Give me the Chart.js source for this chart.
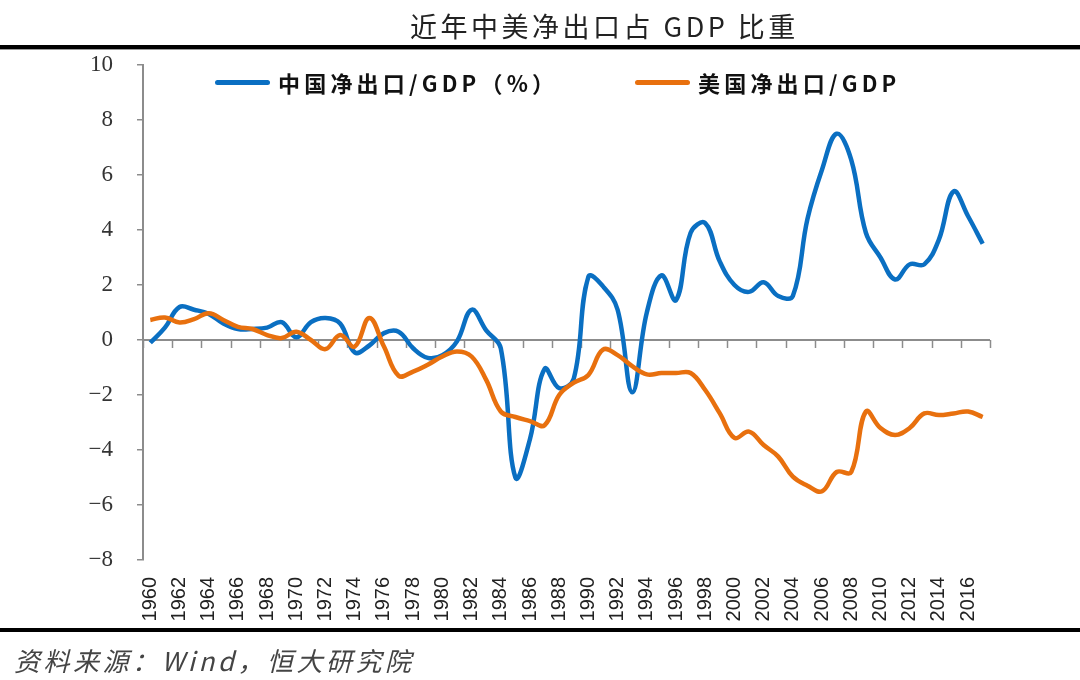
<!DOCTYPE html>
<html>
<head>
<meta charset="utf-8">
<script src="https://cdn.jsdelivr.net/npm/chart.js@4/dist/chart.umd.min.js"></script>
<style>
    html, body { margin: 0; padding: 0; background: #fff; }
    #wrap { position: relative; width: 1080px; height: 680px; overflow: hidden; }
    #wrap canvas { position: absolute; left: 0; top: 0; }
    .title {
        position: absolute; left: 410px; top: 6px;
        font-family: "Noto Sans CJK SC", sans-serif; font-size: 27px; color: #222;
        letter-spacing: 3.5px; white-space: nowrap;
    }
    .rule { position: absolute; left: 0; width: 1080px; background: #000; }
    .legend-item { position: absolute; top: 66px; display: flex; align-items: center; white-space: nowrap; }
    .legend-item i { display: inline-block; width: 55px; height: 5px; border-radius: 3px; margin-right: 8px; }
    .legend-item span {
        font-family: "Noto Sans CJK SC", sans-serif; font-weight: 700; font-size: 22px;
        color: #111; letter-spacing: 4.2px;
    }
    .source {
        position: absolute; left: 14px; top: 641px;
        font-family: "Noto Sans CJK SC", sans-serif; font-style: italic; font-size: 26px;
        color: #444; letter-spacing: 3.5px; white-space: nowrap;
    }
</style>
</head>
<body>
<div id="wrap">
    <canvas id="chartNetExports" width="1080" height="680"></canvas>
    <div class="title">近年中美净出口占 GDP 比重</div>
    <div class="rule" style="top:45px;height:4px"></div>
    <div class="rule" style="top:49px;height:1px;background:#999"></div>
    <div id="legend"></div>
    <div class="rule" style="top:628px;height:4px"></div>
    <div class="source">资料来源：Wind，恒大研究院</div>
</div>
<script>
// ─── Data ─────────────────────────────────────────────────────────────────────
const years = [];
for (let y = 1960; y <= 2017; y++) years.push(String(y));

const chinaNetExports = [
    -0.1, 0.45, 1.2, 1.1, 0.95, 0.6, 0.4, 0.4, 0.45, 0.65,
    0.1, 0.65, 0.8, 0.6, -0.45, -0.2, 0.25, 0.3, -0.3, -0.65,
    -0.55, -0.05, 1.1, 0.35, -0.3, -5.0, -3.6, -1.05, -1.75, -1.4,
    2.3, 1.95, 1.1, -1.9, 1.0, 2.35, 1.45, 3.9, 4.25, 2.85,
    2.0, 1.75, 2.1, 1.6, 1.6, 4.4, 6.2, 7.5, 6.55, 3.9,
    3.0, 2.2, 2.75, 2.75, 3.65, 5.4, 4.5, 3.5,
];

const usNetExports = [
    0.73, 0.82, 0.64, 0.76, 0.97, 0.73, 0.48, 0.4, 0.18, 0.07,
    0.3, 0.0, -0.33, 0.18, -0.24, 0.8, -0.24, -1.3, -1.15, -0.9,
    -0.6, -0.42, -0.6, -1.45, -2.6, -2.8, -2.95, -3.1, -2.0, -1.55,
    -1.27, -0.35, -0.55, -0.95, -1.25, -1.2, -1.2, -1.2, -1.82, -2.67,
    -3.56, -3.33, -3.82, -4.24, -4.97, -5.3, -5.5, -4.8, -4.8, -2.6,
    -3.2, -3.45, -3.2, -2.67, -2.73, -2.67, -2.6, -2.8,
];

const yTicks = [-8, -6, -4, -2, 0, 2, 4, 6, 8, 10];

const colors = { china: '#0a6fc2', us: '#e8700e', axis: '#8c8c8c', text: '#222' };

// ─── Zero line with tick marks (the x axis crosses at 0) ─────────────────────
const zeroAxis = {
    id: 'zeroAxis',
    beforeDatasetsDraw(chart) {
        const { ctx, chartArea, scales } = chart;
        const x = scales.x, y = scales.y;
        const y0 = y.getPixelForValue(0);
        const half = (x.getPixelForValue(1) - x.getPixelForValue(0)) / 2;
        ctx.save();
        ctx.strokeStyle = colors.axis;
        ctx.lineWidth = 2;
        ctx.beginPath();
        ctx.moveTo(chartArea.left, y0);
        ctx.lineTo(chartArea.right, y0);
        ctx.stroke();
        ctx.lineWidth = 1.5;
        for (let k = 0; k <= years.length; k += 2) {
            const px = Math.round(x.getPixelForValue(k) - half) + 0.5;
            ctx.beginPath();
            ctx.moveTo(px, y0);
            ctx.lineTo(px, y0 + 8);
            ctx.stroke();
        }
        ctx.restore();
    },
};

// ─── Chart ────────────────────────────────────────────────────────────────────
const chart = new Chart(document.getElementById('chartNetExports'), {
    type: 'line',
    data: {
        labels: years,
        datasets: [
            {
                label: '中国净出口/GDP（%）',
                data: chinaNetExports,
                borderColor: colors.china,
                borderWidth: 4.5,
                tension: 0.4,
                pointRadius: 0,
                order: 1,
            },
            {
                label: '美国净出口/GDP',
                data: usNetExports,
                borderColor: colors.us,
                borderWidth: 4.5,
                tension: 0.4,
                pointRadius: 0,
                order: 0,
            },
        ],
    },
    options: {
        responsive: false,
        animation: false,
        layout: { padding: { top: 65, right: 90, left: 0, bottom: 0 } },
        plugins: { legend: { display: false }, tooltip: { enabled: false } },
        scales: {
            x: {
                offset: true,
                grid: { display: false, drawTicks: false },
                border: { display: false },
                ticks: {
                    autoSkip: false,
                    maxRotation: 90,
                    minRotation: 90,
                    padding: 17,
                    color: colors.text,
                    font: { family: "'Liberation Sans', Arial, sans-serif", size: 20 },
                    callback: (v, i) => (i % 2 === 0 ? years[i] : ''),
                },
                afterFit: s => { s.height = 120; },
            },
            y: {
                min: yTicks[0],
                max: yTicks[yTicks.length - 1],
                afterBuildTicks: s => { s.ticks = yTicks.map(v => ({ value: v })); },
                grid: { drawOnChartArea: false, drawTicks: true, tickLength: 6, color: colors.axis, lineWidth: 1.5 },
                border: { display: true, color: colors.axis, width: 2 },
                ticks: {
                    padding: 24,
                    color: '#333',
                    font: { family: "'Liberation Serif', 'DejaVu Serif', serif", size: 23 },
                    callback: v => String(v).replace('-', '−'),
                },
                afterFit: s => { s.width = 143; },
            },
        },
    },
    plugins: [zeroAxis],
});

// ─── HTML legend built from the datasets ──────────────────────────────────────
const legendPos = [215, 635];
const legendEl = document.getElementById('legend');
chart.data.datasets.forEach((ds, i) => {
    const item = document.createElement('div');
    item.className = 'legend-item';
    item.style.left = legendPos[i] + 'px';
    item.innerHTML = `<i style="background:${ds.borderColor}"></i><span>${ds.label}</span>`;
    legendEl.appendChild(item);
});
</script>
</body>
</html>
